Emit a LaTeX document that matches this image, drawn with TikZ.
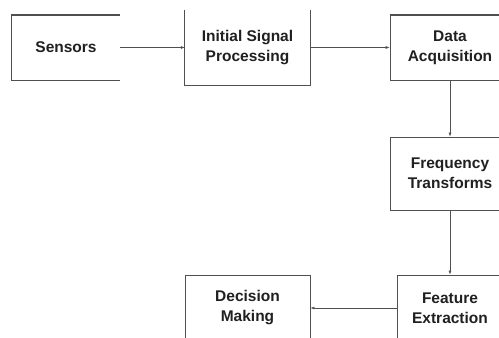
\documentclass[tikz,border=0pt]{standalone}
\usepackage{fontspec}
\setmainfont{Liberation Sans}
\usetikzlibrary{arrows.meta}
\definecolor{edgegray}{HTML}{505050}
\definecolor{txtgray}{HTML}{202020}
\tikzset{
  blk/.style={minimum width=#1, inner sep=0pt, align=center, text=txtgray,
    font=\fontsize{15.5}{20}\selectfont\bfseries},
  blk/.default=120pt,
  frame/.style={draw=edgegray, line width=0.8pt},
  conn/.style={draw=edgegray, line width=0.6pt, -{Latex[length=4pt,width=3pt]}}
}

\begin{document}
\begin{tikzpicture}[x=1pt, y=-1pt]
  \useasboundingbox (0,0) rectangle (499,338);
  \clip (0,0) rectangle (499,338);

  \node[blk=108pt, minimum height=65pt] at (66, 47.5) (sensors) {Sensors};
  \draw[frame] (sensors.north east) -- (sensors.north west)
    -- (sensors.south west) -- (sensors.south east);
  \draw[edgegray, line width=1.6pt] (sensors.north west) -- (sensors.north east);

  \node[blk=125pt, minimum height=75pt] at (247.5, 47.5) (initial)
    {Initial Signal\\Processing};
  \draw[frame] (initial.north west) -- (initial.south west)
    -- (initial.south east) -- (initial.north east);

  \node[blk=120pt, minimum height=65pt, frame] at (450, 47.5) (data)
    {Data\\Acquisition};
  \draw[edgegray, line width=1.6pt] (data.north west) -- (data.north east);

  \node[blk=120pt, minimum height=73pt, frame] at (450, 173.5) (freq)
    {Frequency\\Transforms};

  \node[blk=106pt, minimum height=66pt, frame] at (450, 308) (feature)
    {Feature\\Extraction};

  \node[blk=125pt, minimum height=66pt, frame] at (247.5, 308) (decision)
    {Decision\\Making};

  \draw[conn] (sensors.east) -- (initial.west);
  \draw[conn] (initial.east) -- (data.west);
  \draw[conn] (data.south) -- (freq.north);
  \draw[conn] (freq.south) -- (feature.north);
  \draw[conn] (feature.west) -- (decision.east);
\end{tikzpicture}
\end{document}
